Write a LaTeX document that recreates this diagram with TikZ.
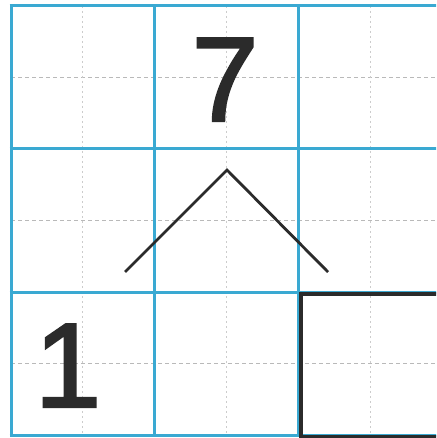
\documentclass[tikz,border=0pt]{standalone}
\usepackage{fontspec}
\setmainfont{Liberation Sans}
\newfontfamily\digitfont[FakeBold=2]{Liberation Sans}
\definecolor{gridblue}{HTML}{3AA9D2}
\definecolor{ink}{HTML}{2B2B2B}
\begin{document}
\begin{tikzpicture}[x=1pt,y=-1pt,
  gridline/.style={draw=gridblue,line width=3pt},
  helper/.style={draw=gray!55,line width=0.9pt,dash pattern=on 4pt off 3pt},
  helperv/.style={draw=gray!40,line width=0.9pt,dash pattern=on 2pt off 3pt},
  digit/.style={text=ink,font=\digitfont\fontsize{120}{120}\selectfont,inner sep=0pt},
  stroke/.style={draw=ink,line width=2.8pt},
  answerbox/.style={draw=ink,line width=4pt,minimum width=143pt,minimum height=143pt,inner sep=0pt,anchor=north west}]
\useasboundingbox (0,0) rectangle (436,438);
\fill[white] (0,0) rectangle (436,438);
\begin{scope}
\clip (0,0) rectangle (436,438);
% helper dashed lines
\foreach \y in {77.5,220.5,363.5} \draw[helper] (11,\y) -- (442,\y);
\foreach \x in {82.5,226,370} \draw[helperv] (\x,6) -- (\x,435);
% main grid
\foreach \x in {11,154,298,442} \draw[gridline] (\x,6) -- (\x,435);
\foreach \y in {6,149,292,435} \draw[gridline] (9.5,\y) -- (443.5,\y);
% answer box
\node[answerbox] (ans) at (299,292) {};
\end{scope}
% digits
\node[digit,anchor=base] (seven) at (225,121) {7};
\node[digit,anchor=base] (one) at (68,407) {1};
% split lines
\coordinate (apex) at (227,170);
\coordinate (vl) at (125,272);
\coordinate (vr) at (328,272);
\draw[stroke] (vl) -- (apex) -- (vr);
\end{tikzpicture}
\end{document}
